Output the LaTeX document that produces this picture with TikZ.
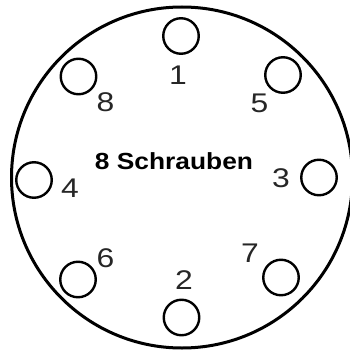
\documentclass[tikz,border=0pt]{standalone}
\usepackage{fontspec}
\setmainfont{Liberation Sans}
\usepackage{tikz}

\tikzset{
  bolt/.style={draw, circle, line width=2.4pt, minimum size=35.5pt, inner sep=0pt},
  boltnum/.style={inner sep=0pt, text=black!85, xscale=1.18, font=\fontsize{27}{31}\selectfont},
}

\begin{document}
\begin{tikzpicture}[x=1pt, y=-1pt]
\useasboundingbox (0,0) rectangle (350,353);
  % flange outline
  \draw[line width=3pt] (182,177.5) circle (170.5);
  % bolt holes
  \node[bolt] (s1) at (181,36) {};
  \node[bolt] (s2) at (181.5,317.5) {};
  \node[bolt] (s3) at (319,177.5) {};
  \node[bolt] (s4) at (34,180) {};
  \node[bolt] (s5) at (283,75) {};
  \node[bolt] (s6) at (78,279.5) {};
  \node[bolt] (s7) at (281,277.5) {};
  \node[bolt] (s8) at (78.5,76.5) {};
  % numbering
  \node[boltnum] (n1) at (178,75) {1};
  \node[boltnum] (n2) at (184,280) {2};
  \node[boltnum] (n3) at (281,178) {3};
  \node[boltnum] (n4) at (70,188) {4};
  \node[boltnum] (n5) at (259.5,103) {5};
  \node[boltnum] (n6) at (105.5,258) {6};
  \node[boltnum] (n7) at (250,253) {7};
  \node[boltnum] (n8) at (105.5,102) {8};
  \node[inner sep=0pt, xscale=1.13, font=\fontsize{23.3}{27}\selectfont\bfseries] (title) at (174,161.5) {8 Schrauben};
\end{tikzpicture}
\end{document}
